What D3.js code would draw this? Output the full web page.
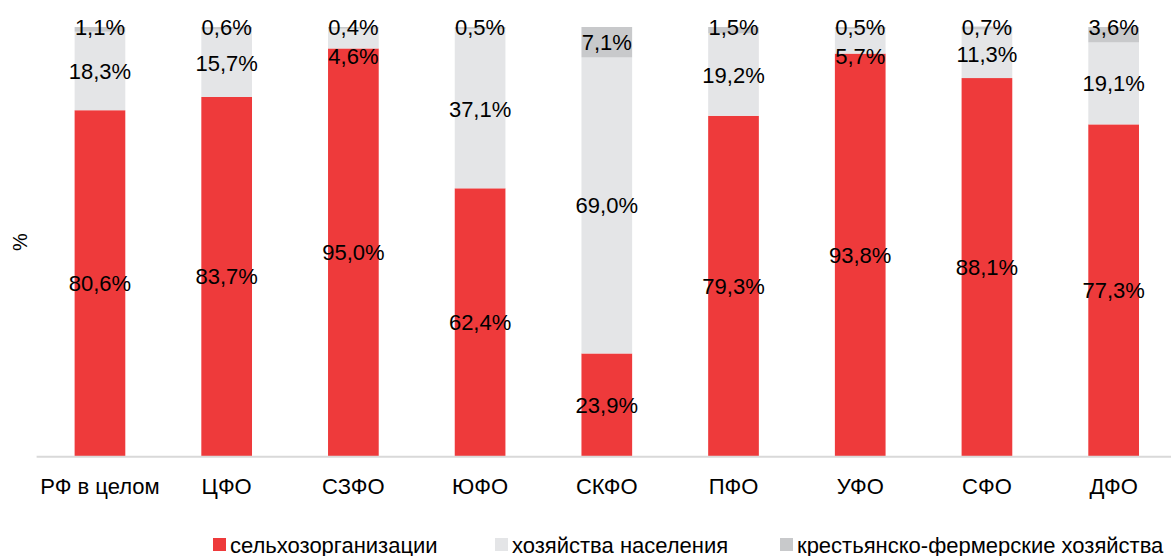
<!DOCTYPE html>
<html>
<head>
<meta charset="utf-8">
<script src="https://cdn.jsdelivr.net/npm/d3@7"></script>
<style>
  body { margin: 0; background: #fff; }
  svg { display: block; font-family: "Liberation Sans", Arial, sans-serif; }
</style>
</head>
<body>
<svg id="chart" width="1171" height="556"></svg>
<script>
// regions (федеральные округа)
const regions = ["РФ в целом", "ЦФО", "СЗФО", "ЮФО", "СКФО", "ПФО", "УФО", "СФО", "ДФО"];
// shares, %
const agroOrgs = [80.6, 83.7, 95.0, 62.4, 23.9, 79.3, 93.8, 88.1, 77.3];
const households = [18.3, 15.7, 4.6, 37.1, 69.0, 19.2, 5.7, 11.3, 19.1];
const farms = [1.1, 0.6, 0.4, 0.5, 7.1, 1.5, 0.5, 0.7, 3.6];
const seriesNames = ["сельхозорганизации", "хозяйства населения", "крестьянско-фермерские хозяйства"];
const colors = ["#ee3a3b", "#e4e5e7", "#c8c9cb"];

const svg = d3.select("#chart");
const W = 1171, H = 556;

const x = d3.scaleBand()
    .domain(regions)
    .range([36.6, 1177])
    .paddingInner(0.6)
    .paddingOuter(0.3);

const y = d3.scaleLinear().domain([0, 100]).range([456, 27]);

// build stack table
const rows = regions.map((r, i) => ({ region: r, s0: agroOrgs[i], s1: households[i], s2: farms[i] }));
const stack = d3.stack().keys(["s0", "s1", "s2"]);
const layers = stack(rows);

const g = svg.append("g");

layers.forEach((layer, li) => {
    g.append("g")
        .attr("fill", colors[li])
        .selectAll("rect")
        .data(layer)
        .join("rect")
        .attr("x", d => x(d.data.region))
        .attr("y", d => y(d[1]))
        .attr("width", x.bandwidth())
        .attr("height", d => y(d[0]) - y(d[1]));
});

// axis line
svg.append("line")
    .attr("x1", 36.6).attr("x2", W)
    .attr("y1", 456.7).attr("y2", 456.7)
    .attr("stroke", "#d9d9d9").attr("stroke-width", 2);

// category labels
const xAxis = d3.axisBottom(x).tickSize(0).tickPadding(0);
const ax = svg.append("g").attr("transform", "translate(0,478)").call(xAxis);
ax.select(".domain").remove();
ax.selectAll("text")
    .attr("font-size", 22)
    .attr("font-family", "Liberation Sans, Arial, sans-serif")
    .attr("fill", "#000")
    .attr("dy", "0.72em");

// data labels
const fmt = v => d3.format(".1f")(v).replace(".", ",") + "%";
const labels = svg.append("g")
    .attr("font-size", 22)
    .attr("text-anchor", "middle")
    .attr("fill", "#000");

rows.forEach((row, i) => {
    const cx = x(row.region) + x.bandwidth() / 2;
    const seg = layers.map(l => l[i]);
    const mid = d => (y(d[0]) + y(d[1])) / 2;
    // top series: small slices get their label lifted to the bar top
    let yTop = mid(seg[2]);
    if (y(seg[2][0]) - y(seg[2][1]) < 20) yTop = Math.min(yTop, 27);
    // middle series: thin slices get the label pushed down
    let yMid = mid(seg[1]);
    if (y(seg[1][0]) - y(seg[1][1]) < 30) yMid = Math.max(yMid, 56);
    const ys = [mid(seg[0]), yMid, yTop];
    [row.s0, row.s1, row.s2].forEach((v, k) => {
        labels.append("text")
            .attr("x", cx)
            .attr("y", ys[k])
            .attr("dy", "0.36em")
            .text(fmt(v));
    });
});

// y axis title
svg.append("text")
    .attr("transform", "translate(27,242) rotate(-90)")
    .attr("text-anchor", "middle")
    .attr("font-size", 20)
    .text("%");

// legend
const legendX = [213, 495, 780];
const legend = svg.append("g");
seriesNames.forEach((name, i) => {
    const lg = legend.append("g").attr("transform", `translate(${legendX[i]},538)`);
    lg.append("rect").attr("width", 13).attr("height", 13).attr("fill", colors[i]);
    lg.append("text").attr("x", 17).attr("y", 15).attr("font-size", 22).text(name);
});
</script>
</body>
</html>
